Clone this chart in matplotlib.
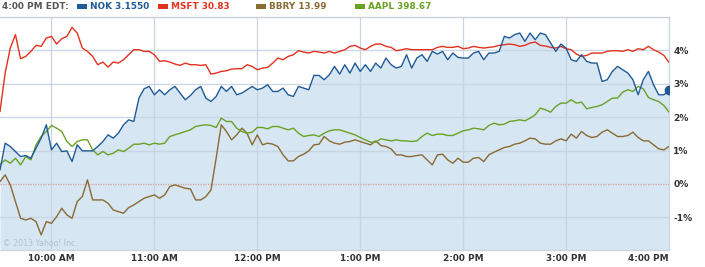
import numpy as np
import matplotlib.pyplot as plt
from matplotlib.patches import Rectangle

# minuty od 9:30, vzorek kazde 3 minuty
minutes = np.arange(0, 391, 3)

nok = [0.42, 1.22, 1.12, 0.97, 0.82, 0.85, 0.77, 1.07, 1.37, 1.77, 1.02, 1.22, 0.97, 0.99, 0.67, 1.17, 0.99, 0.99, 0.99, 1.12, 1.27, 1.47, 1.37, 1.52, 1.77, 1.92, 1.87,
       2.57, 2.85, 2.92, 2.67, 2.82, 2.67, 2.82, 2.92, 2.72, 2.52, 2.65, 2.82, 2.92, 2.57, 2.47, 2.62, 2.92, 2.77, 2.92, 2.67, 2.72, 2.82, 2.92, 2.82, 2.87, 2.97,
       2.77, 2.77, 2.87, 2.67, 2.62, 2.92, 2.87, 2.82, 3.25, 3.25, 3.12, 3.27, 3.52, 3.29, 3.57, 3.32, 3.62, 3.37, 3.57, 3.37, 3.62, 3.47, 3.77, 3.57, 3.47, 3.52,
       3.87, 3.47, 3.77, 3.87, 3.67, 3.97, 3.89, 3.97, 3.72, 3.92, 3.79, 3.77, 3.77, 3.92, 3.97, 3.72, 3.92, 3.92, 3.97, 4.42, 4.37, 4.47, 4.52, 4.27, 4.52, 4.32,
       4.52, 4.47, 4.22, 3.97, 4.19, 4.07, 3.72, 3.67, 3.87, 3.67, 3.62, 3.62, 3.07, 3.12, 3.37, 3.52, 3.42, 3.32, 3.12, 2.67, 3.12, 3.37, 2.97, 2.67, 2.67, 2.80]

msft = [2.17, 3.32, 4.07, 4.47, 3.75, 3.82, 3.97, 4.15, 4.12, 4.37, 4.42, 4.19, 4.35, 4.42, 4.69, 4.52, 4.07, 3.97, 3.82, 3.57, 3.65, 3.50, 3.65, 3.62, 3.72, 3.87, 4.02,
        4.02, 3.97, 3.97, 3.87, 3.67, 3.69, 3.65, 3.59, 3.55, 3.62, 3.57, 3.57, 3.55, 3.57, 3.29, 3.32, 3.37, 3.39, 3.44, 3.45, 3.45, 3.57, 3.52, 3.42, 3.47, 3.49,
        3.62, 3.77, 3.72, 3.82, 3.87, 3.99, 3.95, 3.92, 3.97, 3.95, 3.92, 3.97, 3.92, 3.97, 4.02, 4.12, 4.15, 4.07, 4.02, 4.12, 4.19, 4.19, 4.12, 4.09, 3.99, 4.02,
        4.05, 4.02, 4.02, 4.02, 4.02, 4.02, 4.09, 4.12, 4.09, 4.09, 4.12, 4.05, 4.07, 4.12, 4.09, 4.07, 4.09, 4.11, 4.15, 4.17, 4.19, 4.17, 4.12, 4.15, 4.22, 4.25,
        4.15, 4.13, 4.09, 4.07, 4.12, 4.05, 4.02, 3.89, 3.82, 3.85, 3.92, 3.92, 3.92, 3.97, 3.99, 3.99, 3.97, 4.02, 3.97, 4.05, 4.02, 4.12, 4.02, 3.95, 3.85, 3.64]

bbry = [0.07, 0.27, -0.03, -0.53, -1.03, -1.08, -1.03, -1.13, -1.53, -1.13, -1.18, -0.98, -0.73, -0.93, -1.03, -0.53, -0.38, 0.12, -0.48, -0.48, -0.48, -0.58, -0.78, -0.83, -0.88, -0.71, -0.63,
        -0.53, -0.43, -0.38, -0.33, -0.43, -0.33, -0.08, -0.03, -0.08, -0.13, -0.15, -0.48, -0.48, -0.38, -0.18, 0.77, 1.77, 1.57, 1.32, 1.47, 1.67, 1.52, 1.17, 1.47, 1.17, 1.22,
        1.19, 1.12, 0.87, 0.69, 0.69, 0.82, 0.89, 0.99, 1.17, 1.19, 1.42, 1.29, 1.22, 1.19, 1.25, 1.27, 1.32, 1.27, 1.22, 1.17, 1.29, 1.15, 1.12, 1.05, 0.87, 0.87,
        0.82, 0.82, 0.85, 0.87, 0.72, 0.57, 0.87, 0.89, 0.72, 0.62, 0.77, 0.65, 0.65, 0.77, 0.79, 0.67, 0.87, 0.95, 1.02, 1.09, 1.12, 1.19, 1.22, 1.29, 1.37, 1.35,
        1.22, 1.19, 1.19, 1.29, 1.35, 1.29, 1.49, 1.37, 1.57, 1.45, 1.39, 1.42, 1.55, 1.62, 1.52, 1.42, 1.42, 1.45, 1.55, 1.39, 1.29, 1.29, 1.17, 1.05, 1.02, 1.12]

aapl = [0.57, 0.72, 0.62, 0.77, 0.57, 0.82, 0.72, 1.17, 1.42, 1.57, 1.75, 1.67, 1.57, 1.27, 1.12, 1.27, 1.32, 1.32, 1.02, 0.87, 0.97, 0.87, 0.92, 1.02, 0.97, 1.07, 1.19,
        1.19, 1.22, 1.17, 1.22, 1.19, 1.22, 1.42, 1.47, 1.52, 1.57, 1.62, 1.72, 1.75, 1.77, 1.75, 1.69, 1.97, 1.87, 1.87, 1.67, 1.57, 1.52, 1.55, 1.69, 1.69, 1.65,
        1.72, 1.72, 1.67, 1.62, 1.67, 1.52, 1.42, 1.45, 1.47, 1.42, 1.52, 1.59, 1.62, 1.62, 1.57, 1.52, 1.47, 1.39, 1.32, 1.25, 1.25, 1.35, 1.32, 1.29, 1.32, 1.29,
        1.29, 1.27, 1.29, 1.42, 1.52, 1.45, 1.49, 1.49, 1.45, 1.45, 1.52, 1.59, 1.62, 1.67, 1.65, 1.62, 1.75, 1.82, 1.77, 1.79, 1.87, 1.89, 1.92, 1.89, 1.97, 2.07,
        2.27, 2.22, 2.15, 2.32, 2.42, 2.42, 2.52, 2.42, 2.45, 2.25, 2.29, 2.32, 2.37, 2.47, 2.57, 2.57, 2.75, 2.82, 2.77, 2.92, 2.85, 2.59, 2.52, 2.47, 2.35, 2.15]

tick_minutes = [30, 90, 150, 210, 270, 330, 390]
tick_labels = ['10:00 AM', '11:00 AM', '12:00 PM', '1:00 PM', '2:00 PM', '3:00 PM', '4:00 PM']
pct_ticks = [4, 3, 2, 1, 0, -1]

header = [('NOK 3.1550', '#1f5a96'), ('MSFT 30.83', '#e2311d'),
          ('BBRY 13.99', '#8a6a33'), ('AAPL 398.67', '#6aa126')]

W, H = 705, 267
fig = plt.figure(figsize=(W / 100, H / 100), dpi=100)
ax = fig.add_axes([0, 1 - 250 / H, 669 / W, 233 / H])

grid_c = '#c7d6e2'
ax.fill_between(minutes, nok, -3, color='#d6e6f2', lw=0, zorder=1)
for y in [4, 3, 2, 1, -1]:
    ax.axhline(y, color=grid_c, lw=0.9, zorder=1.5)
for x in tick_minutes[:-1]:
    ax.axvline(x, color=grid_c, lw=0.9, zorder=1.5)
ax.axhline(0, color='#d9a3a3', lw=0.9, ls=(0, (1, 1)), zorder=1.5)

ax.plot(minutes, bbry, color=header[2][1], lw=1.0, zorder=3)
ax.plot(minutes, aapl, color=header[3][1], lw=1.0, zorder=3)
ax.plot(minutes, msft, color=header[1][1], lw=1.0, zorder=3)
ax.plot(minutes, nok, color=header[0][1], lw=1.0, zorder=4)
ax.plot(minutes[-1], nok[-1], 'o', color=header[0][1], ms=6, zorder=5)

ax.set_xlim(0, 390)
ax.set_ylim(-1.98, 5.0)

for side in ['left']:
    ax.spines[side].set_visible(False)
ax.spines['top'].set_color('#c8cfd6')
ax.spines['right'].set_color(grid_c)
ax.spines['bottom'].set_color(grid_c)
for s in ['top', 'right', 'bottom']:
    ax.spines[s].set_linewidth(0.9)

ax.set_xticks(tick_minutes)
ax.set_xticklabels(tick_labels, fontsize=6.4, fontweight='bold', color='#333333')
ax.get_xticklabels()[-1].set_horizontalalignment('right')
ax.yaxis.tick_right()
ax.set_yticks(pct_ticks)
ax.set_yticklabels(['{}%'.format(p) for p in pct_ticks], fontsize=6.6, fontweight='bold', color='#333333')
ax.tick_params(axis='x', length=0, pad=3)
ax.tick_params(axis='y', length=0, pad=3)

# hlavicka s cenama
fy = 1 - 6.5 / H
fig.text(2 / W, fy, '4:00 PM EDT:', fontsize=6.4, fontweight='bold', color='#555555', va='center')
for (txt, c), sx in zip(header, [77, 158, 256, 355]):
    fig.add_artist(Rectangle((sx / W, 1 - 8.5 / H), 10 / W, 4 / H, transform=fig.transFigure, color=c, lw=0))
    fig.text((sx + 13) / W, fy, txt, fontsize=6.4, fontweight='bold', color=c, va='center')

fig.text(3 / W, 1 - 243 / H, '\u00a9 2013 Yahoo! Inc.', fontsize=5.6, color='#b3c0cc', va='center')

fig.savefig('out.png', dpi=100)
